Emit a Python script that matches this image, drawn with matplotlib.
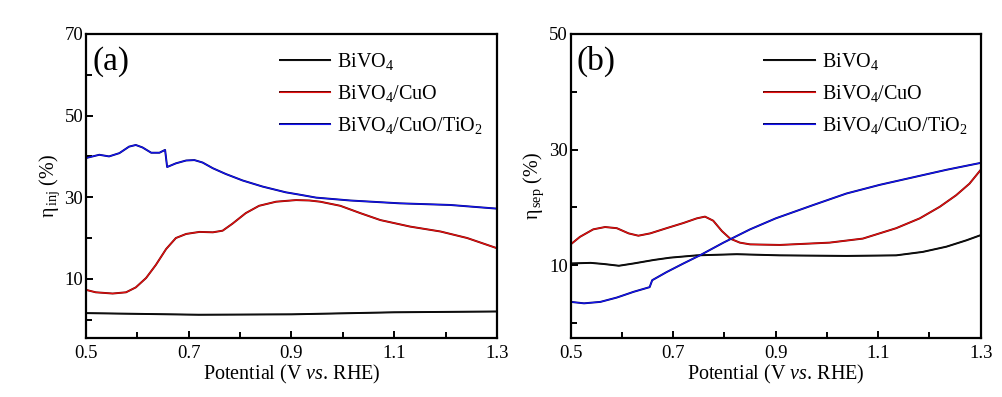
import numpy as np
import matplotlib
matplotlib.use("Agg")
import matplotlib.pyplot as plt
import matplotlib.patheffects as pe

plt.rcParams['font.family'] = ['Liberation Serif', 'DejaVu Serif']
plt.rcParams['mathtext.fontset'] = 'custom'
plt.rcParams['mathtext.rm'] = 'Liberation Serif'
plt.rcParams['mathtext.it'] = 'Liberation Serif:italic'

# ---- data ----
labels = ['BiVO$_4$', 'BiVO$_4$/CuO', 'BiVO$_4$/CuO/TiO$_2$']

# (a) injection efficiency
inj_bivo4_x = [0.50, 0.72, 0.90, 1.10, 1.30]
inj_bivo4_y = [1.6, 1.2, 1.3, 1.8, 2.0]

inj_cuo_x = [0.500, 0.519, 0.552, 0.578, 0.597, 0.617, 0.636, 0.656, 0.675, 0.695,
             0.721, 0.747, 0.766, 0.785, 0.811, 0.837, 0.870, 0.909, 0.935, 0.956,
             0.995, 1.034, 1.073, 1.131, 1.190, 1.242, 1.300]
inj_cuo_y = [7.3, 6.7, 6.4, 6.7, 7.9, 10.2, 13.4, 17.3, 20.0, 21.0,
             21.5, 21.4, 21.8, 23.5, 26.1, 27.9, 28.9, 29.3, 29.2, 28.9,
             27.9, 26.1, 24.4, 22.8, 21.6, 20.0, 17.5]

inj_tio2_x = [0.500, 0.526, 0.545, 0.565, 0.584, 0.597, 0.610, 0.627, 0.643, 0.654,
              0.658, 0.675, 0.695, 0.711, 0.727, 0.747, 0.772, 0.805, 0.844, 0.889,
              0.917, 0.948, 1.014, 1.111, 1.209, 1.300]
inj_tio2_y = [39.6, 40.4, 40.0, 40.8, 42.4, 42.8, 42.2, 40.9, 40.9, 41.6,
              37.4, 38.3, 39.0, 39.1, 38.5, 37.1, 35.7, 34.1, 32.6, 31.2,
              30.6, 29.9, 29.2, 28.5, 28.1, 27.2]

# (b) separation efficiency
sep_bivo4_x = [0.500, 0.539, 0.565, 0.594, 0.623, 0.662, 0.694, 0.746, 0.824, 0.908,
               1.038, 1.135, 1.187, 1.233, 1.272, 1.300]
sep_bivo4_y = [10.3, 10.4, 10.2, 9.9, 10.3, 10.9, 11.3, 11.7, 11.9, 11.7,
               11.6, 11.7, 12.3, 13.2, 14.3, 15.2]

sep_cuo_x = [0.500, 0.518, 0.544, 0.567, 0.590, 0.613, 0.632, 0.655, 0.687, 0.720,
             0.746, 0.762, 0.778, 0.795, 0.811, 0.830, 0.850, 0.908, 1.005, 1.070,
             1.135, 1.181, 1.220, 1.252, 1.278, 1.300]
sep_cuo_y = [13.6, 14.9, 16.2, 16.6, 16.4, 15.5, 15.1, 15.5, 16.4, 17.3,
             18.1, 18.4, 17.7, 15.9, 14.6, 13.9, 13.6, 13.5, 13.9, 14.6,
             16.4, 18.1, 20.1, 22.1, 24.1, 26.5]

sep_tio2_x = [0.500, 0.526, 0.558, 0.590, 0.623, 0.654, 0.659, 0.687, 0.720, 0.752,
              0.798, 0.850, 0.900, 0.973, 1.038, 1.103, 1.168, 1.233, 1.300]
sep_tio2_y = [3.65, 3.4, 3.65, 4.4, 5.4, 6.2, 7.4, 8.8, 10.3, 11.7,
              13.9, 16.2, 18.1, 20.4, 22.4, 23.9, 25.2, 26.5, 27.7]

colors = ['#111111', '#e61212', '#1616f5']
edges = ['#000000', '#6a0000', '#00006a']


def draw(ax, series, ylim, yticks, yminor, ylabel, tag):
    for (x, y), c, e, lab in zip(series, colors, edges, labels):
        ax.plot(x, y, color=c, lw=0.8, label=lab,
                path_effects=[pe.Stroke(linewidth=1.4, foreground=e), pe.Normal()])
    ax.set_xlim(0.5, 1.3)
    ax.set_ylim(*ylim)
    ax.set_xticks([0.5, 0.7, 0.9, 1.1, 1.3])
    ax.set_xticks([0.6, 0.8, 1.0, 1.2], minor=True)
    ax.set_yticks(yticks)
    ax.set_yticks(yminor, minor=True)
    ax.tick_params(direction='in', which='both', labelsize=13.5, width=1.4)
    ax.tick_params(which='major', length=5)
    ax.tick_params(which='minor', length=4)
    ax.tick_params(axis='y', pad=2)
    ax.tick_params(axis='x', pad=5)
    for s in ax.spines.values():
        s.set_linewidth(1.6)
    ax.set_xlabel('Potential (V $\\it{vs}$. RHE)', fontsize=14.5, labelpad=1)
    ax.set_ylabel(ylabel, fontsize=14.5, labelpad=2)
    ax.text(0.015, 0.91, tag, transform=ax.transAxes, fontsize=24, va='center', ha='left')
    ax.legend(loc='upper left', bbox_to_anchor=(0.472, 0.945), frameon=False,
              fontsize=14.5, handlelength=2.5, handletextpad=0.35, labelspacing=0.55,
              borderpad=0, borderaxespad=0)


fig = plt.figure(figsize=(10.03, 3.97), dpi=100)
ax1 = fig.add_axes([0.0857, 0.1486, 0.4098, 0.7658])
ax2 = fig.add_axes([0.569, 0.1486, 0.4088, 0.7658])

draw(ax1, [(inj_bivo4_x, inj_bivo4_y), (inj_cuo_x, inj_cuo_y), (inj_tio2_x, inj_tio2_y)],
     (-4.5, 70), [10, 30, 50, 70], [0, 20, 40, 60], 'η$_{\\,\\rm inj}$ (%)', '(a)')
draw(ax2, [(sep_bivo4_x, sep_bivo4_y), (sep_cuo_x, sep_cuo_y), (sep_tio2_x, sep_tio2_y)],
     (-2.6, 50), [10, 30, 50], [0, 20, 40], 'η$_{\\,\\rm sep}$ (%)', '(b)')

fig.savefig('out.png', dpi=100)
